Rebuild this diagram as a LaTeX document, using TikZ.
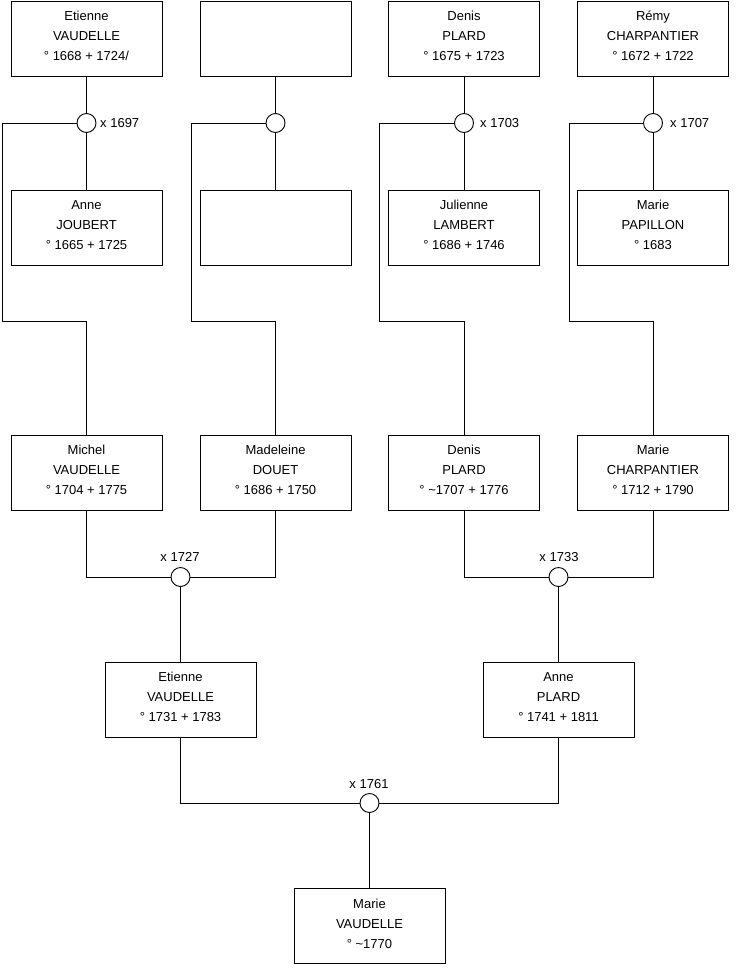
\documentclass[tikz,border=0pt]{standalone}
\usepackage{fontspec}
\setmainfont{Liberation Sans}
\begin{document}
\begin{tikzpicture}[x=1pt,y=-1pt,
  person/.style={draw, line width=0.9pt, fill=white, minimum width=151pt, minimum height=75pt,
    inner sep=0pt},
  ptext/.style={inner sep=0pt, align=center, font=\fontsize{13}{20}\selectfont, yshift=2.5pt},
  wed/.style={draw, line width=0.9pt, circle, fill=white, minimum size=19pt, inner sep=0pt},
  lbl/.style={font=\fontsize{13}{15}\selectfont, inner sep=0pt},
  link/.style={line width=0.9pt}]
\useasboundingbox (0,0) rectangle (740,975);
\newcommand\pers[3]{\node[person] (#1) at #2 {};\node[ptext] (#1-t) at (#1) {#3};}
% persons
\pers{p1}{(86.5,38.5)}{Etienne\\VAUDELLE\\° 1668 + 1724/}
\node[person] (p2) at (275.5,38.5) {};
\pers{p3}{(464,38.5)}{Denis\\PLARD\\° 1675 + 1723}
\pers{p4}{(653,38.5)}{Rémy\\CHARPANTIER\\° 1672 + 1722}
\pers{q1}{(86.5,227.5)}{Anne\\JOUBERT\\° 1665 + 1725}
\node[person] (q2) at (275.5,227.5) {};
\pers{q3}{(464,227.5)}{Julienne\\LAMBERT\\° 1686 + 1746}
\pers{q4}{(653,227.5)}{Marie\\PAPILLON\\° 1683}
\pers{c1}{(86.5,472.5)}{Michel\\VAUDELLE\\° 1704 + 1775}
\pers{c2}{(275.5,472.5)}{Madeleine\\DOUET\\° 1686 + 1750}
\pers{c3}{(464,472.5)}{Denis\\PLARD\\° \textasciitilde 1707 + 1776}
\pers{c4}{(653,472.5)}{Marie\\CHARPANTIER\\° 1712 + 1790}
\pers{g1}{(180.5,699.5)}{Etienne\\VAUDELLE\\° 1731 + 1783}
\pers{g2}{(558.5,699.5)}{Anne\\PLARD\\° 1741 + 1811}
\pers{r}{(369.5,926)}{Marie\\VAUDELLE\\° \textasciitilde 1770}
% marriages
\node[wed] (m1) at (86.5,123) {};
\node[wed] (m2) at (275.5,123) {};
\node[wed] (m3) at (464,123) {};
\node[wed] (m4) at (653,123) {};
\node[wed] (m5) at (180.5,577) {};
\node[wed] (m6) at (558.5,577) {};
\node[wed] (m7) at (369.5,803) {};
% marriage labels
\node[lbl, anchor=west] (l1) at (100,123) {x 1697};
\node[lbl, anchor=west] (l3) at (480,123) {x 1703};
\node[lbl, anchor=west] (l4) at (670,123) {x 1707};
\node[lbl] (l5) at (180,557) {x 1727};
\node[lbl] (l6) at (559,557) {x 1733};
\node[lbl] (l7) at (369,784) {x 1761};
% corner coordinates
\coordinate (k1) at (2,123);   \coordinate (k1b) at (2,321);
\coordinate (k2) at (191,123); \coordinate (k2b) at (191,321);
\coordinate (k3) at (379,123); \coordinate (k3b) at (379,321);
\coordinate (k4) at (569,123); \coordinate (k4b) at (569,321);
% couples
\foreach \i in {1,2,3,4}{
  \draw[link] (p\i) -- (m\i);
  \draw[link] (m\i) -- (q\i);
  \draw[link] (m\i) -- (k\i) -- (k\i b) -| (c\i.north);
}
\draw[link] (c1.south) |- (m5);
\draw[link] (c2.south) |- (m5);
\draw[link] (m5) -- (g1);
\draw[link] (c3.south) |- (m6);
\draw[link] (c4.south) |- (m6);
\draw[link] (m6) -- (g2);
\draw[link] (g1.south) |- (m7);
\draw[link] (g2.south) |- (m7);
\draw[link] (m7) -- (r);
\end{tikzpicture}
\end{document}
